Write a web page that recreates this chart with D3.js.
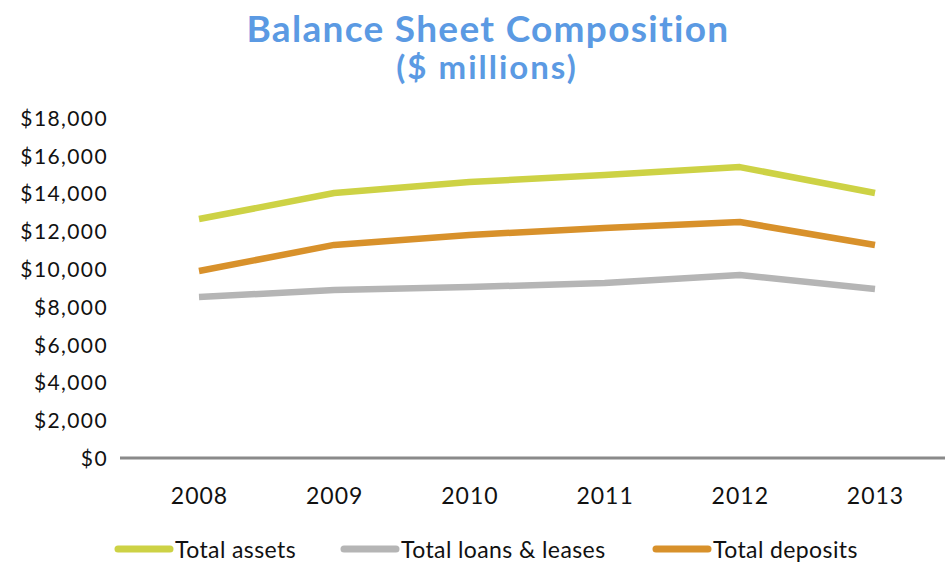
<!DOCTYPE html>
<html>
<head>
<meta charset="utf-8">
<script src="https://cdn.jsdelivr.net/npm/d3@7"></script>
<style>
  html, body { margin: 0; padding: 0; background: #fff; }
  svg { display: block; }
</style>
</head>
<body>
<svg id="chart" width="945" height="563"></svg>
<script>
// Balance sheet data, $ millions
const years = ["2008", "2009", "2010", "2011", "2012", "2013"];
const totalAssets = [12650, 14030, 14610, 14980, 15400, 14030];
const totalLoansLeases = [8520, 8890, 9050, 9260, 9690, 8950];
const totalDeposits = [9900, 11280, 11810, 12180, 12490, 11280];
const yTicks = [0, 2000, 4000, 6000, 8000, 10000, 12000, 14000, 16000, 18000];

const series = [
  { name: "Total assets", values: totalAssets, color: "#cdd245" },
  { name: "Total loans & leases", values: totalLoansLeases, color: "#b5b5b5" },
  { name: "Total deposits", values: totalDeposits, color: "#d8912b" }
];

const svg = d3.select("#chart");
const font = "Lato, 'Open Sans', sans-serif";

const x = d3.scalePoint().domain(years).range([199, 875]);
const y = d3.scaleLinear().domain([0, 18000]).range([458, 118]);

// Title
svg.append("text")
  .attr("x", 488).attr("y", 42)
  .attr("text-anchor", "middle")
  .attr("font-family", font).attr("font-weight", 700)
  .attr("font-size", 37).attr("letter-spacing", 1.3)
  .attr("fill", "#5b9ae3")
  .text("Balance Sheet Composition");
svg.append("text")
  .attr("x", 487).attr("y", 79)
  .attr("text-anchor", "middle")
  .attr("font-family", font).attr("font-weight", 700)
  .attr("font-size", 33).attr("letter-spacing", 2)
  .attr("fill", "#5b9ae3")
  .text("($ millions)");

// Y axis labels (no axis line)
const fmt = d => "$" + d3.format(",")(d);
const yAxis = d3.axisLeft(y).tickValues(yTicks).tickFormat(fmt).tickSize(0).tickPadding(0);
const gy = svg.append("g").attr("transform", "translate(108,0)").call(yAxis);
gy.select(".domain").remove();
gy.selectAll("text")
  .attr("font-family", font).attr("font-size", 21).attr("letter-spacing", 1.4)
  .attr("fill", "#111")
  .attr("dy", "0.35em");

// X axis: baseline at zero plus year labels
svg.append("line")
  .attr("x1", 120).attr("x2", 945)
  .attr("y1", y(0)).attr("y2", y(0))
  .attr("stroke", "#8a8a8a").attr("stroke-width", 3);

const xAxis = d3.axisBottom(x).tickSize(0).tickPadding(0);
const gx = svg.append("g").attr("transform", "translate(0,504)").call(xAxis);
gx.select(".domain").remove();
gx.selectAll("text")
  .attr("font-family", font).attr("font-size", 23).attr("letter-spacing", 1)
  .attr("fill", "#111")
  .attr("dy", 0);

// Series lines
const line = d3.line()
  .x((d, i) => x(years[i]))
  .y(d => y(d));

svg.append("g").selectAll("path")
  .data(series)
  .join("path")
  .attr("d", s => line(s.values))
  .attr("fill", "none")
  .attr("stroke", s => s.color)
  .attr("stroke-width", 6.5)
  .attr("stroke-linejoin", "round");

// Legend
const legendItems = [
  { s: series[0], x0: 115 },
  { s: series[1], x0: 341 },
  { s: series[2], x0: 653 }
];
const lg = svg.append("g");
legendItems.forEach(item => {
  lg.append("line")
    .attr("x1", item.x0 + 3).attr("x2", item.x0 + 55)
    .attr("y1", 549).attr("y2", 549)
    .attr("stroke", item.s.color).attr("stroke-width", 7)
    .attr("stroke-linecap", "round");
  lg.append("text")
    .attr("x", item.x0 + 60).attr("y", 558)
    .attr("font-family", font).attr("font-size", 23).attr("letter-spacing", 0.4)
    .attr("fill", "#111")
    .text(item.s.name);
});
</script>
</body>
</html>
